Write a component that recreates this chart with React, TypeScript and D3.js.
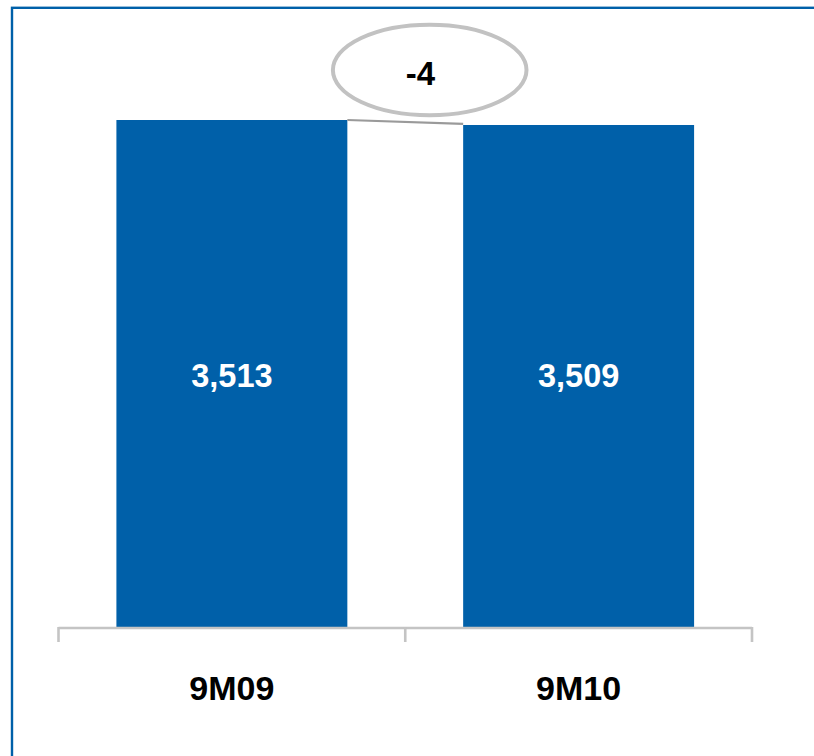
import React from "react";
import * as d3 from "d3";

// Nine-month totals
const periods: string[] = ["9M09", "9M10"];
const totals: number[] = [3513, 3509];
const changeLabel = "-4";

const WIDTH = 814;
const HEIGHT = 756;
const BLUE = "#0060A9";
const AXIS_GREY = "#C4C4C4";

export default function App() {
  const x = d3
    .scaleBand<string>()
    .domain(periods)
    .range([58.5, 752])
    .paddingInner(0.334)
    .paddingOuter(0.167);

  // Truncated value axis so the small change stays visible
  const y = d3.scaleLinear().domain([3107, totals[0]]).range([627, 120]);

  const fmt = d3.format(",");
  const bw = x.bandwidth();
  const baseY = y.range()[0];

  const leftRight = (x(periods[0]) ?? 0) + bw;
  const rightLeft = x(periods[1]) ?? 0;
  const bubbleCx = 429.7;
  const bubbleCy = 70;

  const tickXs = [x.range()[0], ...periods.slice(1).map((p) => (x(p) ?? 0) - x.step() * x.paddingInner() / 2), x.range()[1]];

  return (
    <svg
      width={WIDTH}
      height={HEIGHT}
      style={{ position: "absolute", left: 0, top: 0, display: "block" }}
      fontFamily="'Liberation Sans', Arial, sans-serif"
    >
      <rect x={0} y={0} width={WIDTH} height={HEIGHT} fill="#fff" />
      <rect x={12} y={7.8} width={900} height={900} fill="none" stroke={BLUE} strokeWidth={2.4} />

      {periods.map((p, i) => (
        <g key={p}>
          <rect x={x(p)} y={y(totals[i])} width={bw} height={baseY - y(totals[i])} fill={BLUE} />
          <text
            x={(x(p) ?? 0) + bw / 2}
            y={387}
            textAnchor="middle"
            fontWeight="bold"
            fontSize={32.5}
            fill="#fff"
          >
            {fmt(totals[i])}
          </text>
          <text
            x={(x(p) ?? 0) + bw / 2}
            y={700}
            textAnchor="middle"
            fontWeight="bold"
            fontSize={34}
            fill="#000"
          >
            {p}
          </text>
        </g>
      ))}

      {/* category axis */}
      <line x1={tickXs[0]} x2={tickXs[tickXs.length - 1]} y1={628} y2={628} stroke={AXIS_GREY} strokeWidth={2.6} />
      {tickXs.map((tx, i) => (
        <line key={i} x1={tx} x2={tx} y1={627} y2={642} stroke={AXIS_GREY} strokeWidth={2.6} />
      ))}

      {/* change connector and bubble */}
      <line
        x1={leftRight}
        y1={y(totals[0])}
        x2={rightLeft}
        y2={y(totals[1]) - 1.2}
        stroke="#9A9A9A"
        strokeWidth={2.2}
      />
      <ellipse cx={bubbleCx} cy={bubbleCy} rx={96.8} ry={45.3} fill="#fff" stroke="#C2C2C2" strokeWidth={4} />
      <text x={420.5} y={85} textAnchor="middle" fontWeight="bold" fontSize={33} fill="#000">
        {changeLabel}
      </text>
    </svg>
  );
}
